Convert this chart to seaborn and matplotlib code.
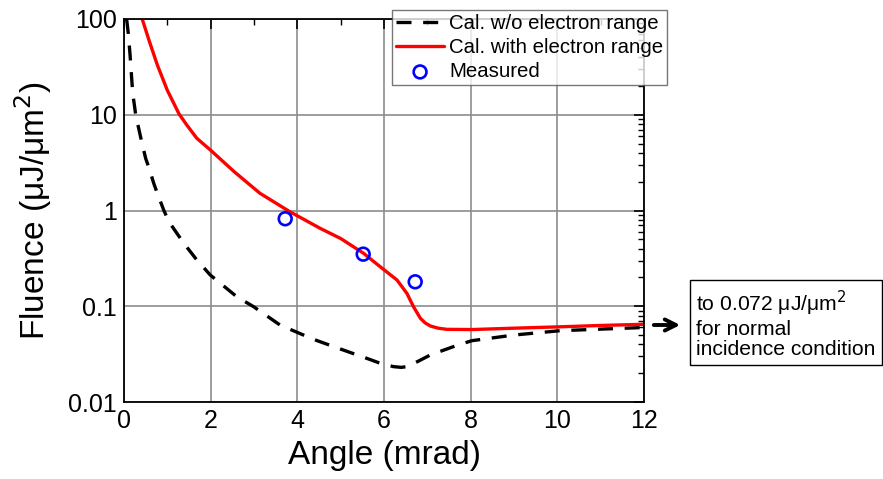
import matplotlib
matplotlib.use("Agg")
import matplotlib.pyplot as plt
import seaborn as sns
import numpy as np
import pandas as pd
from matplotlib.ticker import LogLocator, FixedLocator, NullFormatter

sns.set_style("white")
plt.rcParams['font.family'] = ['Liberation Sans', 'DejaVu Sans']
plt.rcParams['text.color'] = 'black'
plt.rcParams['axes.labelcolor'] = 'black'
plt.rcParams['xtick.color'] = 'black'
plt.rcParams['ytick.color'] = 'black'

# Cal. w/o electron range (dashed black)
x_wo = [0.06, 0.10, 0.14, 0.20, 0.27, 0.385, 0.50, 0.58, 0.69, 0.77, 0.92, 1.04, 1.23, 1.38,
        1.65, 1.99, 2.60, 2.99, 3.60, 4.37, 4.83, 5.60, 5.91, 6.22, 6.40, 6.53, 6.80, 7.07,
        7.68, 8.03, 8.99, 10.07, 12.0]
y_wo = [100, 70, 42, 17, 10, 5.8, 3.5, 2.76, 1.9, 1.51, 1.0, 0.76, 0.57, 0.455,
        0.317, 0.212, 0.126, 0.099, 0.0637, 0.0452, 0.038, 0.0286, 0.0254, 0.0234, 0.0230,
        0.0234, 0.0268, 0.031, 0.039, 0.0437, 0.050, 0.0556, 0.060]

# Cal. with electron range (solid red)
x_with = [0.42, 0.577, 0.77, 1.00, 1.27, 1.45, 1.68, 2.015, 2.54, 3.14, 3.83, 4.53, 5.00, 5.53,
          5.91, 6.30, 6.53, 6.68, 6.84, 6.95, 7.07, 7.25, 7.45, 8.03, 9.00, 10.07, 11.0, 12.0]
y_with = [100, 60, 33, 18, 10.2, 7.8, 5.68, 4.2, 2.55, 1.51, 0.97, 0.65, 0.51, 0.357,
          0.259, 0.188, 0.136, 0.099, 0.0748, 0.067, 0.0622, 0.059, 0.0574, 0.0571, 0.059,
          0.061, 0.063, 0.0648]

# Measured (open blue circles)
x_meas = [3.72, 5.52, 6.72]
y_meas = [0.82, 0.35, 0.18]

x_ticks = [0, 2, 4, 6, 8, 10, 12]
y_ticks = [0.01, 0.1, 1, 10, 100]
y_tick_labels = ["0.01", "0.1", "1", "10", "100"]

df_wo = pd.DataFrame({"x": x_wo, "y": y_wo})
df_with = pd.DataFrame({"x": x_with, "y": y_with})
df_meas = pd.DataFrame({"x": x_meas, "y": y_meas})

fig = plt.figure(figsize=(8.83, 4.79), dpi=100)
ax = fig.add_axes([124/883, 1 - 402/479, (644-124)/883, (402-19)/479])

sns.lineplot(data=df_wo, x="x", y="y", ax=ax, sort=False, color="black",
             lw=2.4, label="Cal. w/o electron range")
ax.lines[-1].set_dashes([4.5, 3.5])
sns.lineplot(data=df_with, x="x", y="y", ax=ax, sort=False, color="#ff0000",
             lw=2.4, label="Cal. with electron range")
sns.scatterplot(data=df_meas, x="x", y="y", ax=ax, marker="o", s=85,
                facecolors="none", edgecolor="#0000ff", linewidth=1.9,
                label="Measured", zorder=5)
for ln in ax.lines:
    ln.set_solid_joinstyle("round")

ax.set_yscale("log")
ax.set_xlim(0, 12)
ax.set_ylim(0.01, 100)
ax.xaxis.set_major_locator(FixedLocator(x_ticks))
ax.xaxis.set_minor_locator(FixedLocator([1, 3, 5, 7, 9, 11]))
ax.set_xticklabels([str(t) for t in x_ticks])
ax.yaxis.set_major_locator(FixedLocator(y_ticks))
ax.set_yticklabels(y_tick_labels)
ax.yaxis.set_minor_locator(LogLocator(base=10, subs=np.arange(2, 10)))
ax.yaxis.set_minor_formatter(NullFormatter())

ax.grid(True, which="major", color="#8c8c8c", lw=1.2)
ax.set_axisbelow(True)
ax.tick_params(which="both", direction="in", top=True, right=True, color="black")
ax.tick_params(which="major", length=7, width=1.2, labelsize=18, pad=5)
ax.tick_params(which="minor", length=4, width=1.0)
for sp in ax.spines.values():
    sp.set_color("black")
    sp.set_linewidth(1.3)

ax.set_xlabel("Angle (mrad)", fontsize=24, labelpad=5)
ax.set_ylabel("Fluence (μJ/μm$^2$)", fontsize=24, labelpad=10)

leg = ax.legend(loc="upper left", bbox_to_anchor=((392-124)/520, 1 + 9/383),
                fontsize=14.7, frameon=True, fancybox=False, edgecolor="#555555",
                borderpad=0.2, labelspacing=0.25, handlelength=2.35,
                handletextpad=0.25, borderaxespad=0)
leg.get_frame().set_linewidth(1.0)
for t in leg.get_texts():
    t.set_color("black")

ax.annotate("", xy=(683/883, 1 - 325/479), xytext=(651/883, 1 - 325/479),
            xycoords="figure fraction", textcoords="figure fraction",
            arrowprops=dict(arrowstyle="->", lw=2.8, color="black",
                            mutation_scale=20))
fig.text(696/883, 1 - 324/479, "to 0.072 μJ/μm$^2$\nfor normal\nincidence condition",
         fontsize=15.2, va="center", ha="left", linespacing=1.1,
         bbox=dict(boxstyle="square,pad=0.3", fc="white", ec="black", lw=1.0))

fig.savefig("out.png", dpi=100)
